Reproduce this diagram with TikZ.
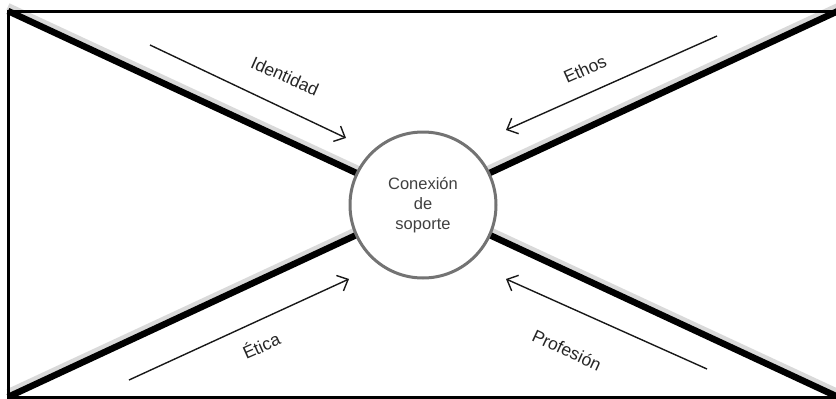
\documentclass[tikz,border=0pt]{standalone}
\usepackage{fontspec}
\setmainfont{Liberation Sans}
\usetikzlibrary{arrows.meta}
\begin{document}
\begin{tikzpicture}[x=1pt,y=-1pt,
  diag/.style={line width=6.5pt,black},
  diagshadow/.style={line width=7pt,black!15},
  frame/.style={line width=3pt,black},
  flow/.style={line width=1.4pt,black!90,-{Straight Barb[length=9pt,width=17pt,line width=1.4pt]}},
  lab/.style={font=\fontsize{17.5}{20}\selectfont,text=black!85}]
\useasboundingbox (0,0) rectangle (836,399);
\coordinate (tl) at (8,11);
\coordinate (tr) at (838,11);
\coordinate (bl) at (8,397);
\coordinate (br) at (838,397);
% shadows
\draw[diagshadow] ([yshift=4.5pt]tl) -- ([yshift=4.5pt]br);
\draw[diagshadow] ([yshift=4.5pt]bl) -- ([yshift=4.5pt]tr);
% diagonals
\draw[diag] (tl) -- (br);
\draw[diag] (bl) -- (tr);
% frame
\draw[frame] (tl) rectangle (br);
% centre
\node[circle,draw=black!55,line width=3pt,fill=white,minimum size=146pt,inner sep=0pt,
  align=center,font=\fontsize{16.5}{20}\selectfont,text=black!75] (c) at (423,205) {Conexión\\de\\soporte};
% arrows
\coordinate (a1s) at (150,45);  \coordinate (a1e) at (346,138);
\coordinate (a2s) at (717,36);  \coordinate (a2e) at (506,130);
\coordinate (a3s) at (129,380); \coordinate (a3e) at (349,279);
\coordinate (a4s) at (707,369); \coordinate (a4e) at (506,279);
\draw[flow] (a1s) -- (a1e);
\draw[flow] (a2s) -- (a2e);
\draw[flow] (a3s) -- (a3e);
\draw[flow] (a4s) -- (a4e);
% labels
\node[lab,rotate=-24] (l1) at (285,76) {Identidad};
\node[lab,rotate=24] (l2) at (585,69) {Ethos};
\node[lab,rotate=24] (l3) at (261,345) {Ética};
\node[lab,rotate=-25] (l4) at (567,350) {Profesión};
\end{tikzpicture}
\end{document}
